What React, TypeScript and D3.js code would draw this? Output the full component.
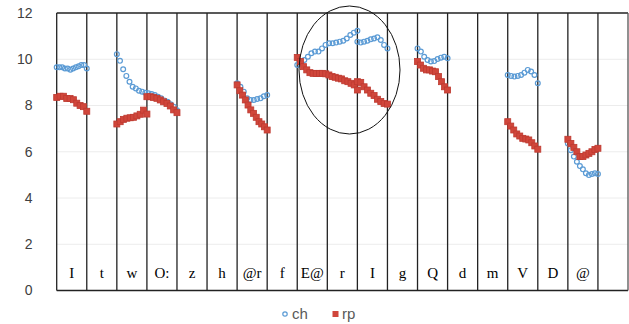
import * as d3 from "d3";

// column labels (one per column, last column is empty)
const labels = ["I", "t", "w", "O:", "z", "h", "@r", "f", "E@", "r", "I", "g", "Q", "d", "m", "V", "D", "@", ""];
const yTicks = [0, 2, 4, 6, 8, 10, 12];

// each run: starting column, how many columns it covers, values
const chI = [9.65, 9.65, 9.65, 9.6, 9.6, 9.55, 9.6, 9.65, 9.7, 9.75, 9.75, 9.6];
const chWO = [10.22, 9.93, 9.57, 9.28, 9.03, 8.81, 8.74, 8.64, 8.6, 8.55, 8.53, 8.5, 8.45, 8.38, 8.31, 8.22, 8.16, 8.05, 7.95, 7.8];
const chAr = [8.96, 8.81, 8.6, 8.31, 8.24, 8.24, 8.28, 8.31, 8.4, 8.45];
const chEr = [9.75, 9.82, 9.97, 10.11, 10.26, 10.33, 10.33, 10.47, 10.62, 10.69, 10.69, 10.72, 10.76, 10.8, 10.9, 11.05, 11.15, 11.23];
const chI2 = [10.76, 10.72, 10.76, 10.8, 10.86, 10.9, 10.95, 10.83, 10.62, 10.47];
const chQ = [10.47, 10.33, 10.11, 9.97, 9.9, 9.92, 10.01, 10.07, 10.11, 10.04];
const chV = [9.32, 9.28, 9.25, 9.28, 9.32, 9.42, 9.54, 9.47, 9.32, 8.96];
const chAt = [6.36, 6.07, 5.79, 5.57, 5.38, 5.24, 5.07, 4.99, 5.04, 5.07, 5.04];

const rpI = [8.35, 8.4, 8.4, 8.3, 8.3, 8.25, 8.1, 8.0, 7.95, 7.75];
const rpW = [7.2, 7.3, 7.4, 7.45, 7.47, 7.49, 7.55, 7.62, 7.8, 7.63];
const rpO = [8.38, 8.38, 8.35, 8.31, 8.24, 8.16, 8.09, 7.98, 7.81, 7.69];
const rpAr = [8.89, 8.64, 8.45, 8.24, 8.02, 7.81, 7.66, 7.49, 7.3, 7.2, 7.08, 6.94];
const rpEr = [10.08, 9.9, 9.68, 9.54, 9.42, 9.39, 9.38, 9.39, 9.39, 9.37, 9.32, 9.25, 9.22, 9.18, 9.15, 9.07, 9.03, 8.96, 8.89, 8.67];
const rpI2 = [9.03, 9.0, 8.81, 8.67, 8.53, 8.43, 8.27, 8.17, 8.09, 8.06];
const rpQ = [9.9, 9.75, 9.61, 9.54, 9.54, 9.49, 9.46, 9.25, 9.03, 8.81, 8.67];
const rpV = [7.3, 7.11, 6.94, 6.77, 6.68, 6.58, 6.55, 6.51, 6.39, 6.25, 6.11];
const rpAt = [6.54, 6.36, 6.19, 6.0, 5.79, 5.79, 5.86, 5.93, 6.0, 6.1, 6.15];

const chRuns: [number, number, number[]][] = [
  [0, 1, chI], [2, 2, chWO], [6, 1, chAr], [8, 2, chEr], [10, 1, chI2], [12, 1, chQ], [15, 1, chV], [17, 1, chAt],
];
const rpRuns: [number, number, number[]][] = [
  [0, 1, rpI], [2, 1, rpW], [3, 1, rpO], [6, 1, rpAr], [8, 2, rpEr], [10, 1, rpI2], [12, 1, rpQ], [15, 1, rpV], [17, 1, rpAt],
];

const toPoints = (runs: [number, number, number[]][]) =>
  runs.flatMap(([start, span, vals]) =>
    vals.map((v, k) => ({ x: start + (span * k) / (vals.length - 1), y: v }))
  );

export default function App() {
  const width = 629;
  const height = 324;
  const x = d3.scaleLinear().domain([0, labels.length]).range([56.7, 628]);
  const y = d3.scaleLinear().domain([0, 12]).range([290.5, 13]);
  const ch = toPoints(chRuns);
  const rp = toPoints(rpRuns);
  const blue = "#5b9bd5";
  const red = "#d0463b";

  return (
    <>
      <style>{`body{margin:0}`}</style>
      <svg width={width} height={height} style={{ display: "block", background: "#fff" }}>
        {/* gridlines */}
        {yTicks.slice(1, -1).map((t) => (
          <line key={t} x1={x(0)} x2={x(labels.length)} y1={y(t)} y2={y(t)} stroke="#ececec" strokeWidth={1} />
        ))}
        {/* y tick labels */}
        {yTicks.map((t) => (
          <text key={t} x={32.5} y={y(t)} dy="0.35em" textAnchor="end" fontFamily="Liberation Sans, Arial, sans-serif" fontSize={14} fill="#404040">
            {t}
          </text>
        ))}
        {/* table frame */}
        <line x1={x(0)} x2={x(labels.length)} y1={y(12)} y2={y(12)} stroke="#222" strokeWidth={1.3} />
        <line x1={x(0)} x2={x(labels.length)} y1={y(0)} y2={y(0)} stroke="#222" strokeWidth={1.3} />
        {d3.range(labels.length + 1).map((i) => (
          <line key={i} x1={x(i)} x2={x(i)} y1={y(12)} y2={y(0)} stroke={i === labels.length ? "#555" : "#222"} strokeWidth={1.3} />
        ))}
        {labels.map((l, i) => (
          <text key={i} x={x(i + 0.5)} y={278} textAnchor="middle" fontFamily="Liberation Serif, Times New Roman, serif" fontSize={15} fill="#000">
            {l}
          </text>
        ))}
        {/* ch markers */}
        {ch.map((p, i) => (
          <circle key={i} cx={x(p.x)} cy={y(p.y)} r={2.4} fill="none" stroke={blue} strokeWidth={1.2} />
        ))}
        {/* rp markers */}
        {rp.map((p, i) => (
          <rect key={i} x={x(p.x) - 3} y={y(p.y) - 3} width={6} height={6} fill={red} stroke="#be3a30" strokeWidth={0.8} />
        ))}
        {/* highlight ellipse */}
        <ellipse cx={349.5} cy={70} rx={50.5} ry={64} fill="none" stroke="#111" strokeWidth={1} />
        {/* legend */}
        <circle cx={285} cy={314} r={2.2} fill="none" stroke={blue} strokeWidth={1.2} />
        <text x={292} y={314} dy="0.35em" fontFamily="Liberation Sans, Arial, sans-serif" fontSize={15} fill="#595959">ch</text>
        <rect x={332.5} y={311} width={6} height={6} fill={red} />
        <text x={342} y={314} dy="0.35em" fontFamily="Liberation Sans, Arial, sans-serif" fontSize={15} fill="#595959">rp</text>
      </svg>
    </>
  );
}
